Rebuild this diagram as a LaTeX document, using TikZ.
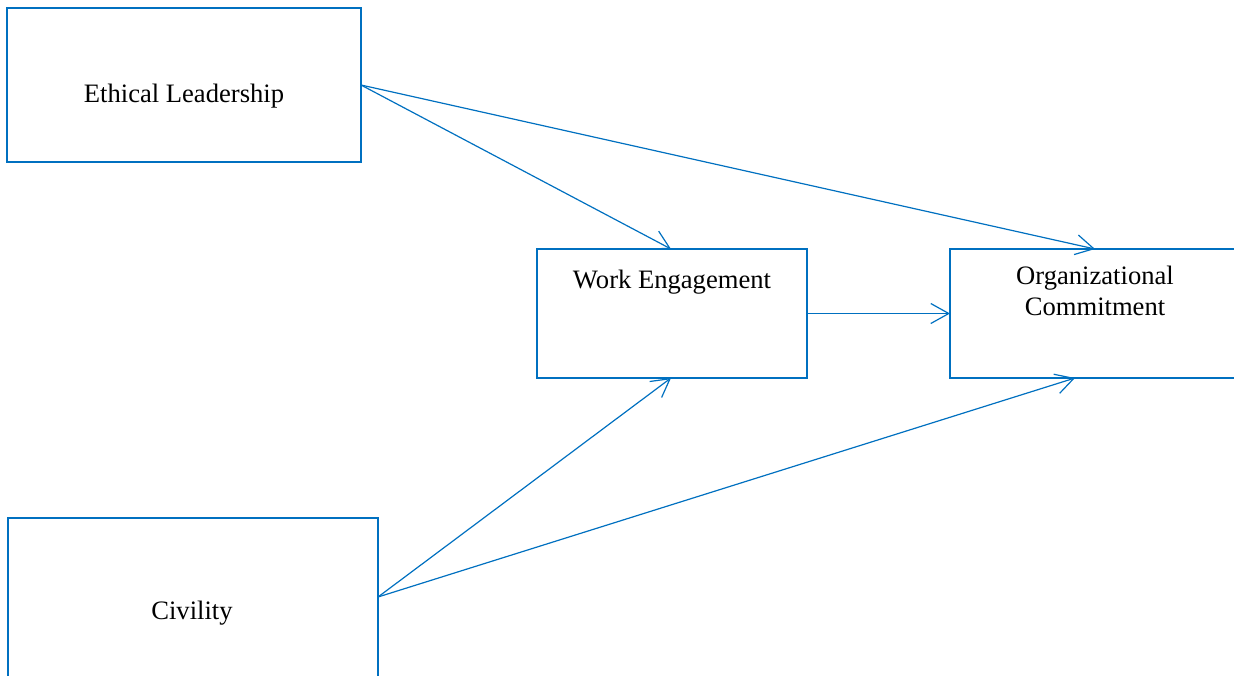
\documentclass[tikz,border=0pt]{standalone}
\usepackage{fontspec}
\setmainfont{Liberation Serif}
\usetikzlibrary{arrows.meta}
\definecolor{boxblue}{HTML}{0070C0}
\begin{document}
\begin{tikzpicture}[x=1pt,y=-1pt,
  box/.style={draw=boxblue,line width=1.3pt,inner sep=0pt,outer sep=0pt},
  lbl/.style={font=\fontsize{26.6}{31}\selectfont,inner sep=0pt,anchor=base,align=center},
  link/.style={draw=boxblue,line width=1.2pt,-{Straight Barb[length=18pt,width=20pt,line width=1.2pt]}}]
\useasboundingbox (0,0) rectangle (1234,675);
\node[box,minimum width=354pt,minimum height=154pt] (el) at (184,85) {};
\node[box,minimum width=270pt,minimum height=129pt] (we) at (672,313.5) {};
\node[box,minimum width=290pt,minimum height=129pt] (oc) at (1095,313.5) {};
\node[box,minimum width=370pt,minimum height=164pt] (civ) at (193,600) {};
\node[lbl] (elt) at (184,102) {Ethical Leadership};
\node[lbl] (wet) at (672,288) {Work Engagement};
\node[lbl] (oct) at (1095,315) {Organizational\\Commitment};
\node[lbl] (civt) at (192,619) {Civility};
\coordinate (cs) at ([yshift=3pt]civ.east);
\draw[link] (el.east) -- ([xshift=-1pt]we.north);
\draw[link] (el.east) -- (oc.north);
\draw[link] (we.east) -- (oc.west);
\draw[link] (cs) -- ([xshift=-1pt]we.south);
\draw[link] (cs) -- ([xshift=-20pt]oc.south);
\end{tikzpicture}
\end{document}
